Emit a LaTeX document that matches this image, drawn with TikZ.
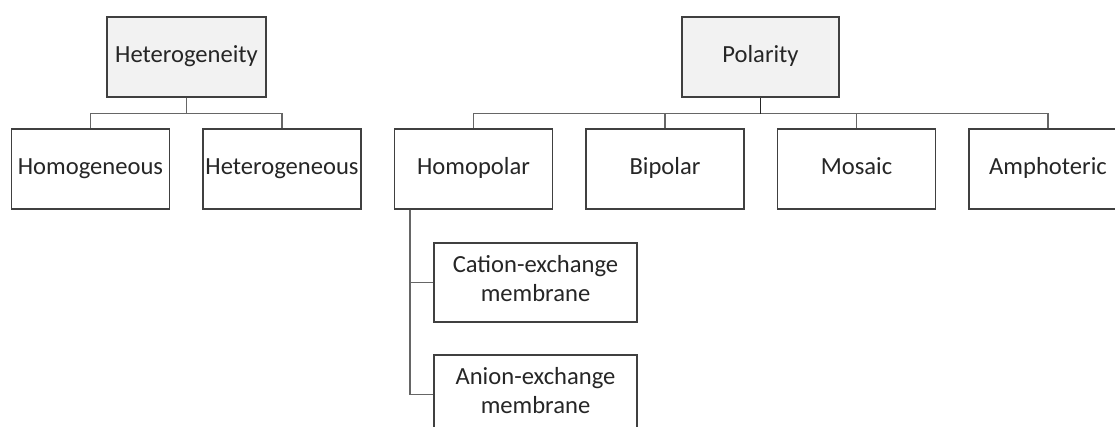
\documentclass[tikz,border=0pt]{standalone}
\usepackage{fontspec}
\setmainfont{Carlito}
\begin{document}
\begin{tikzpicture}[x=1pt,y=-1pt,
  box/.style={draw=black!75,line width=1.2pt,fill=white,inner sep=0pt,
    minimum width=158pt,minimum height=80pt,align=center,
    font=\fontsize{24.6}{29}\selectfont,text=black!85,
    execute at begin node=\strut},
  rootbox/.style={box,fill=black!5},
  wide/.style={box,minimum width=203pt,minimum height=79pt},
  link/.style={draw=black!60,line width=1.2pt}]
\clip (0,0) rectangle (1115,426);
\fill[white] (0,0) rectangle (1115,426);
\node[rootbox,minimum width=159pt] (het) at (186.5,57) {Heterogeneity};
\node[box] (homog) at (90.5,169) {Homogeneous};
\node[box] (heterog) at (282,169) {Heterogeneous};
\node[rootbox,minimum width=157pt] (pol) at (760.5,57) {Polarity};
\node[box] (homop) at (473.5,169) {Homopolar};
\node[box] (bip) at (665,169) {Bipolar};
\node[box] (mos) at (856.5,169) {Mosaic};
\node[box] (amph) at (1048,169) {Amphoteric};
\node[wide] (cat) at (535.5,282.5) {Cation-exchange\\membrane};
\node[wide] (an) at (535.5,394.5) {Anion-exchange\\membrane};
\draw[link] (het.south) -- ++(0,16) -| (homog.north);
\draw[link] (het.south) -- ++(0,16) -| (heterog.north);
\draw[link] (pol.south) -- ++(0,16) -| (homop.north);
\draw[link] (pol.south) -- ++(0,16) -| (bip.north);
\draw[link] (pol.south) -- ++(0,16) -| (mos.north);
\draw[link] (pol.south) -- ++(0,16) -| (amph.north);
\draw[link,draw=black!85] (pol.south) -- ++(0,16);
\draw[link] ([xshift=16pt]homop.south west) |- (cat.west);
\draw[link] ([xshift=16pt]homop.south west) |- (an.west);
\end{tikzpicture}
\end{document}
